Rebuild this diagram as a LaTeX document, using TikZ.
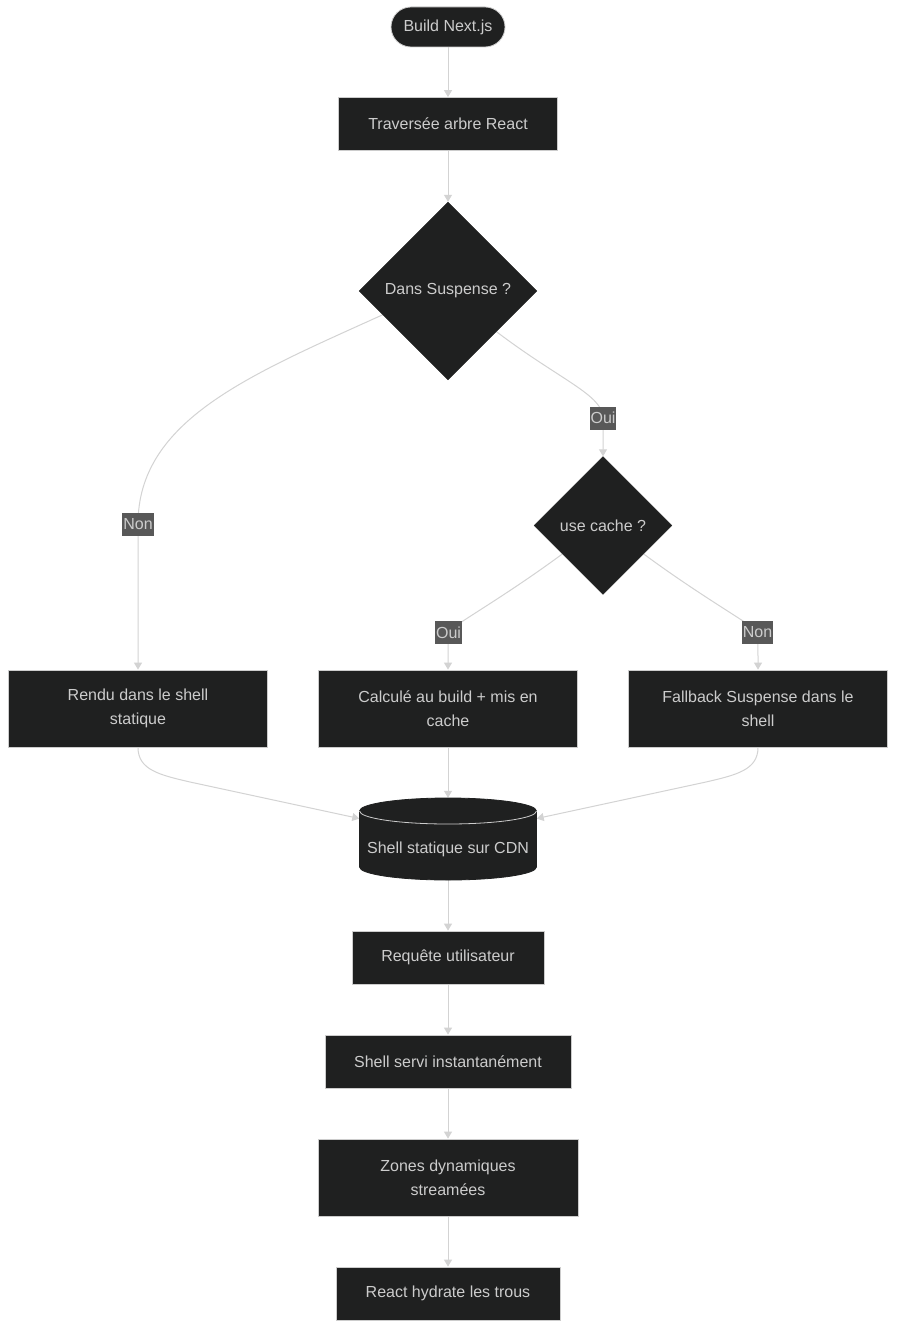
\documentclass[tikz,border=0pt]{standalone}
\usepackage{fontspec}
\setmainfont{Liberation Sans}
\usetikzlibrary{shapes.geometric,arrows.meta}
\definecolor{nodefill}{HTML}{1F2020}
\definecolor{nodeborder}{HTML}{CCCCCC}
\definecolor{txt}{HTML}{CCCCCC}
\definecolor{edgecol}{HTML}{D3D3D3}
\definecolor{lblbg}{HTML}{585858}
\pgfdeclarelayer{back}
\pgfdeclarelayer{bg}
\pgfsetlayers{back,bg,main}
\begin{document}
\begin{tikzpicture}[x=1pt,y=-1pt,
  basefont/.style={font=\fontsize{16}{24}\selectfont, text=txt},
  box/.style={basefont, draw=nodeborder, line width=0.8pt, fill=nodefill, align=center, inner sep=0pt, minimum height=53pt},
  stadium/.style={box, rounded corners=20pt, minimum height=40pt},
  dia/.style={basefont, diamond, aspect=1, fill=nodefill, draw=nodefill, inner sep=0pt},
  lbl/.style={basefont, fill=lblbg, inner sep=1pt, minimum height=23pt},
  conn/.style={draw=edgecol, line width=1pt, -{Triangle[length=7pt,width=8pt]}, line join=round}
]
\useasboundingbox (0,0) rectangle (896,1329);
\begin{pgfonlayer}{back}
\fill[white] (0,0) rectangle (896,1329);
\end{pgfonlayer}

% nodes
\node[stadium, minimum width=114pt] (build) at (448,27) {Build Next.js};
\node[box, minimum width=219pt] (trav) at (448,124) {Traversée arbre React};
\node[dia, minimum width=178pt, minimum height=178pt] (susp) at (448,291) {Dans Suspense ?};
\node[dia, minimum width=138pt, minimum height=138pt] (uc) at (603,525.5) {use cache ?};
\node[box, minimum width=259pt, minimum height=77pt] (rendu) at (138,708.5) {Rendu dans le shell\\statique};
\node[box, minimum width=259pt, minimum height=77pt] (calc) at (448,708.5) {Calculé au build + mis en\\cache};
\node[box, minimum width=259pt, minimum height=77pt] (fall) at (758,708.5) {Fallback Suspense dans le\\shell};

% cylinder
\node[inner sep=0pt, minimum width=177pt, minimum height=82pt] (cdn) at (448,839) {};
\path[fill=nodefill, draw=nodefill, line width=0.8pt]
  (359.5,811) arc[start angle=180, end angle=360, x radius=88.5, y radius=13]
  -- (536.5,867) arc[start angle=0, end angle=180, x radius=88.5, y radius=13] -- cycle;
\draw[nodeborder, line width=0.8pt] (359.5,811) arc[start angle=180, end angle=0, x radius=88.5, y radius=13];
\node[basefont] (cdntext) at ([yshift=-10pt]cdn.center) {Shell statique sur CDN};

\node[box, minimum width=192pt] (req) at (448,957.5) {Requête utilisateur};
\node[box, minimum width=246pt] (serv) at (448,1061.5) {Shell servi instantanément};
\node[box, minimum width=260pt, minimum height=77pt] (zones) at (448,1177.5) {Zones dynamiques\\streamées};
\node[box, minimum width=224pt] (hydr) at (448,1293.5) {React hydrate les trous};

% edge labels
\node[lbl] (l1) at (603,418) {Oui};
\node[lbl] (l2) at (138,524) {Non};
\node[lbl] (l3) at (448.5,632.5) {Oui};
\node[lbl] (l4) at (757.5,632.5) {Non};

% connectors
\begin{pgfonlayer}{bg}
\draw[conn] (build.south) -- (trav.north);
\draw[conn] (trav.south) -- (susp.north);
\draw[conn] (susp.200) .. controls (250,375) and (138,420) .. (l2.center) -- (rendu.north);
\draw[conn] (susp.-40) .. controls (560,380) and (603,395) .. (l1.center) -- (uc.north);
\draw[conn] (uc.215) .. controls (500,600) and (448,628) .. (l3.center) .. controls (448,645) and (448,655) .. (calc.north);
\draw[conn] (uc.-35) .. controls (706,600) and (758,628) .. (l4.center) .. controls (758,645) and (758,655) .. (fall.north);
\draw[conn] (rendu.south) .. controls (138,770) and (160,775) .. (190,782) -- (cdn.167);
\draw[conn] (calc.south) -- (cdn.north);
\draw[conn] (fall.south) .. controls (758,770) and (736,775) .. (706,782) -- (cdn.13);
\draw[conn] (cdn.south) -- (req.north);
\draw[conn] (req.south) -- (serv.north);
\draw[conn] (serv.south) -- (zones.north);
\draw[conn] (zones.south) -- (hydr.north);
\end{pgfonlayer}
\end{tikzpicture}
\end{document}
